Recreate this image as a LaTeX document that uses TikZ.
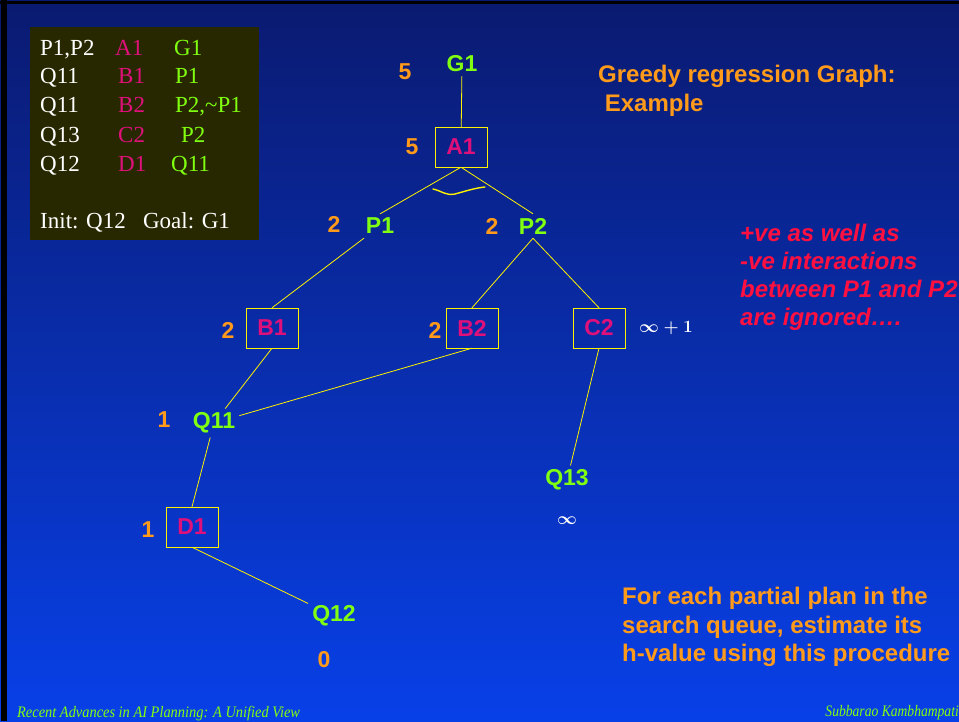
\documentclass[tikz,border=0pt]{standalone}
\usepackage{amsmath}
\usepackage{fontspec}
\setmainfont{Liberation Serif}
\setsansfont{Liberation Sans}
\usepackage{tikz}
\usetikzlibrary{positioning}
\definecolor{navytop}{HTML}{0A1A70}
\definecolor{navymid}{HTML}{0830B8}
\definecolor{bluebot}{HTML}{0840E8}
\definecolor{hvorange}{HTML}{FF9A1A}
\definecolor{goalgreen}{HTML}{80FF10}
\definecolor{actpink}{HTML}{E0107A}
\definecolor{notered}{HTML}{FF1040}
\definecolor{legbg}{HTML}{282800}

\begin{document}
\begin{tikzpicture}[x=1pt,y=-1pt,
	big/.style={font=\fontsize{23}{23}\sffamily\bfseries},
	actbox/.style={big,draw=yellow,text=actpink,minimum width=52pt,minimum height=40pt,inner sep=0pt},
	prop/.style={big,text=goalgreen,inner sep=4pt},
	hv/.style={big,text=hvorange},
	link/.style={draw=yellow,line width=0.8pt},
	leg/.style={font=\fontsize{23}{23}\selectfont,anchor=base west,inner sep=0pt},
	note/.style={font=\fontsize{24}{28.5}\sffamily\bfseries,align=left,anchor=north west,inner sep=0pt}]
	\useasboundingbox (0,0) rectangle (959,721);
	\shade[top color=navytop,middle color=navymid,bottom color=bluebot] (0,0) rectangle (959,721);
	\fill[black] (0,1) rectangle (959,4);
	\fill[black] (1,0) rectangle (7,721);

	% legend of actions
	\fill[legbg] (30,27) rectangle (259,240);
	\node[leg,white] (l1) at (40,55) {P1,P2};
	\node[leg,actpink] (l2) at (115,55) {A1};
	\node[leg,goalgreen] (l3) at (174,55) {G1};
	\node[leg,white] (l4) at (40,83) {Q11};
	\node[leg,actpink] (l5) at (118,83) {B1};
	\node[leg,goalgreen] (l6) at (175,83) {P1};
	\node[leg,white] (l7) at (40,112) {Q11};
	\node[leg,actpink] (l8) at (118,112) {B2};
	\node[leg,goalgreen] (l9) at (175,112) {P2,\char`~P1};
	\node[leg,white] (l10) at (40,142) {Q13};
	\node[leg,actpink] (l11) at (118,142) {C2};
	\node[leg,goalgreen] (l12) at (181,142) {P2};
	\node[leg,white] (l13) at (40,171) {Q12};
	\node[leg,actpink] (l14) at (118,171) {D1};
	\node[leg,goalgreen] (l15) at (171,171) {Q11};
	\node[leg,white] (init) at (40,228) {Init: Q12\ \ \ Goal: G1};

	% regression graph
	\node[prop] (g1) at (462,64) {G1};
	\node[actbox] (a1) at (461,147) {A1};
	\node[prop] (p1) at (380,226) {P1};
	\node[prop] (p2) at (533,226) {P2};
	\node[actbox] (b1) at (272,328) {B1};
	\node[actbox] (b2) at (472,328) {B2};
	\node[actbox] (c2) at (599,328) {C2};
	\node[prop] (q11) at (214,423) {Q11};
	\node[actbox] (d1) at (192,527) {D1};
	\node[prop] (q13) at (567,480) {Q13};
	\node[prop] (q12) at (334,616) {Q12};

	\node[hv] (h1) at (405,72) {5};
	\node[hv] (h2) at (412,147) {5};
	\node[hv] (h3) at (334,224) {2};
	\node[hv] (h4) at (492,226) {2};
	\node[hv] (h5) at (228,330) {2};
	\node[hv] (h6) at (435,330) {2};
	\node[hv] (h7) at (164,420) {1};
	\node[hv] (h8) at (148,530) {1};
	\node[hv] (h9) at (324,660) {0};
	\node[white,font=\fontsize{18}{18}\selectfont] (h10) at (567,521) {$\boldsymbol{\infty}$};
	\node[white,font=\fontsize{18}{18}\selectfont] (h11) at (666,328) {$\boldsymbol{\infty+1}$};

	\draw[link] (g1) -- (a1)
		(a1.south) -- (p1.north)
		(a1.south) -- (p2.north)
		(p1) -- (b1.north)
		(p2.south) -- (b2.north)
		(p2.south) -- (c2.north)
		(b1.south) -- (q11)
		(b2.south) -- (q11)
		(q11) -- (d1.north)
		(d1.south) -- (q12)
		(c2.south) -- (q13);
	% hand drawn arc
	\draw[yellow,line width=1.4pt,line cap=round] (433,189) .. controls (442,191) and (446,196) .. (455,194) .. controls (466,191) and (475,188) .. (485,187);

	% notes
	\node[note,hvorange] (title) at (598,65) {Greedy regression Graph:\\\ Example};
	\node[note,notered,font=\fontsize{24}{28}\sffamily\bfseries\itshape] (inter) at (740,224) {+ve as well as\\-ve interactions\\between P1 and P2\\are ignored\dots.};
	\node[note,hvorange] (proc) at (622,587) {For each partial plan in the\\search queue, estimate its\\h-value using this procedure};

	% footer
	\node[goalgreen,font=\fontsize{16}{16}\selectfont\itshape,anchor=base west,inner sep=0pt,xscale=0.9] (foot1) at (17,717) {Recent Advances in AI Planning: A Unified View};
	\node[goalgreen,font=\fontsize{16}{16}\selectfont\itshape,anchor=base east,inner sep=0pt,xscale=0.85] (foot2) at (959,716) {Subbarao Kambhampati};
\end{tikzpicture}
\end{document}
